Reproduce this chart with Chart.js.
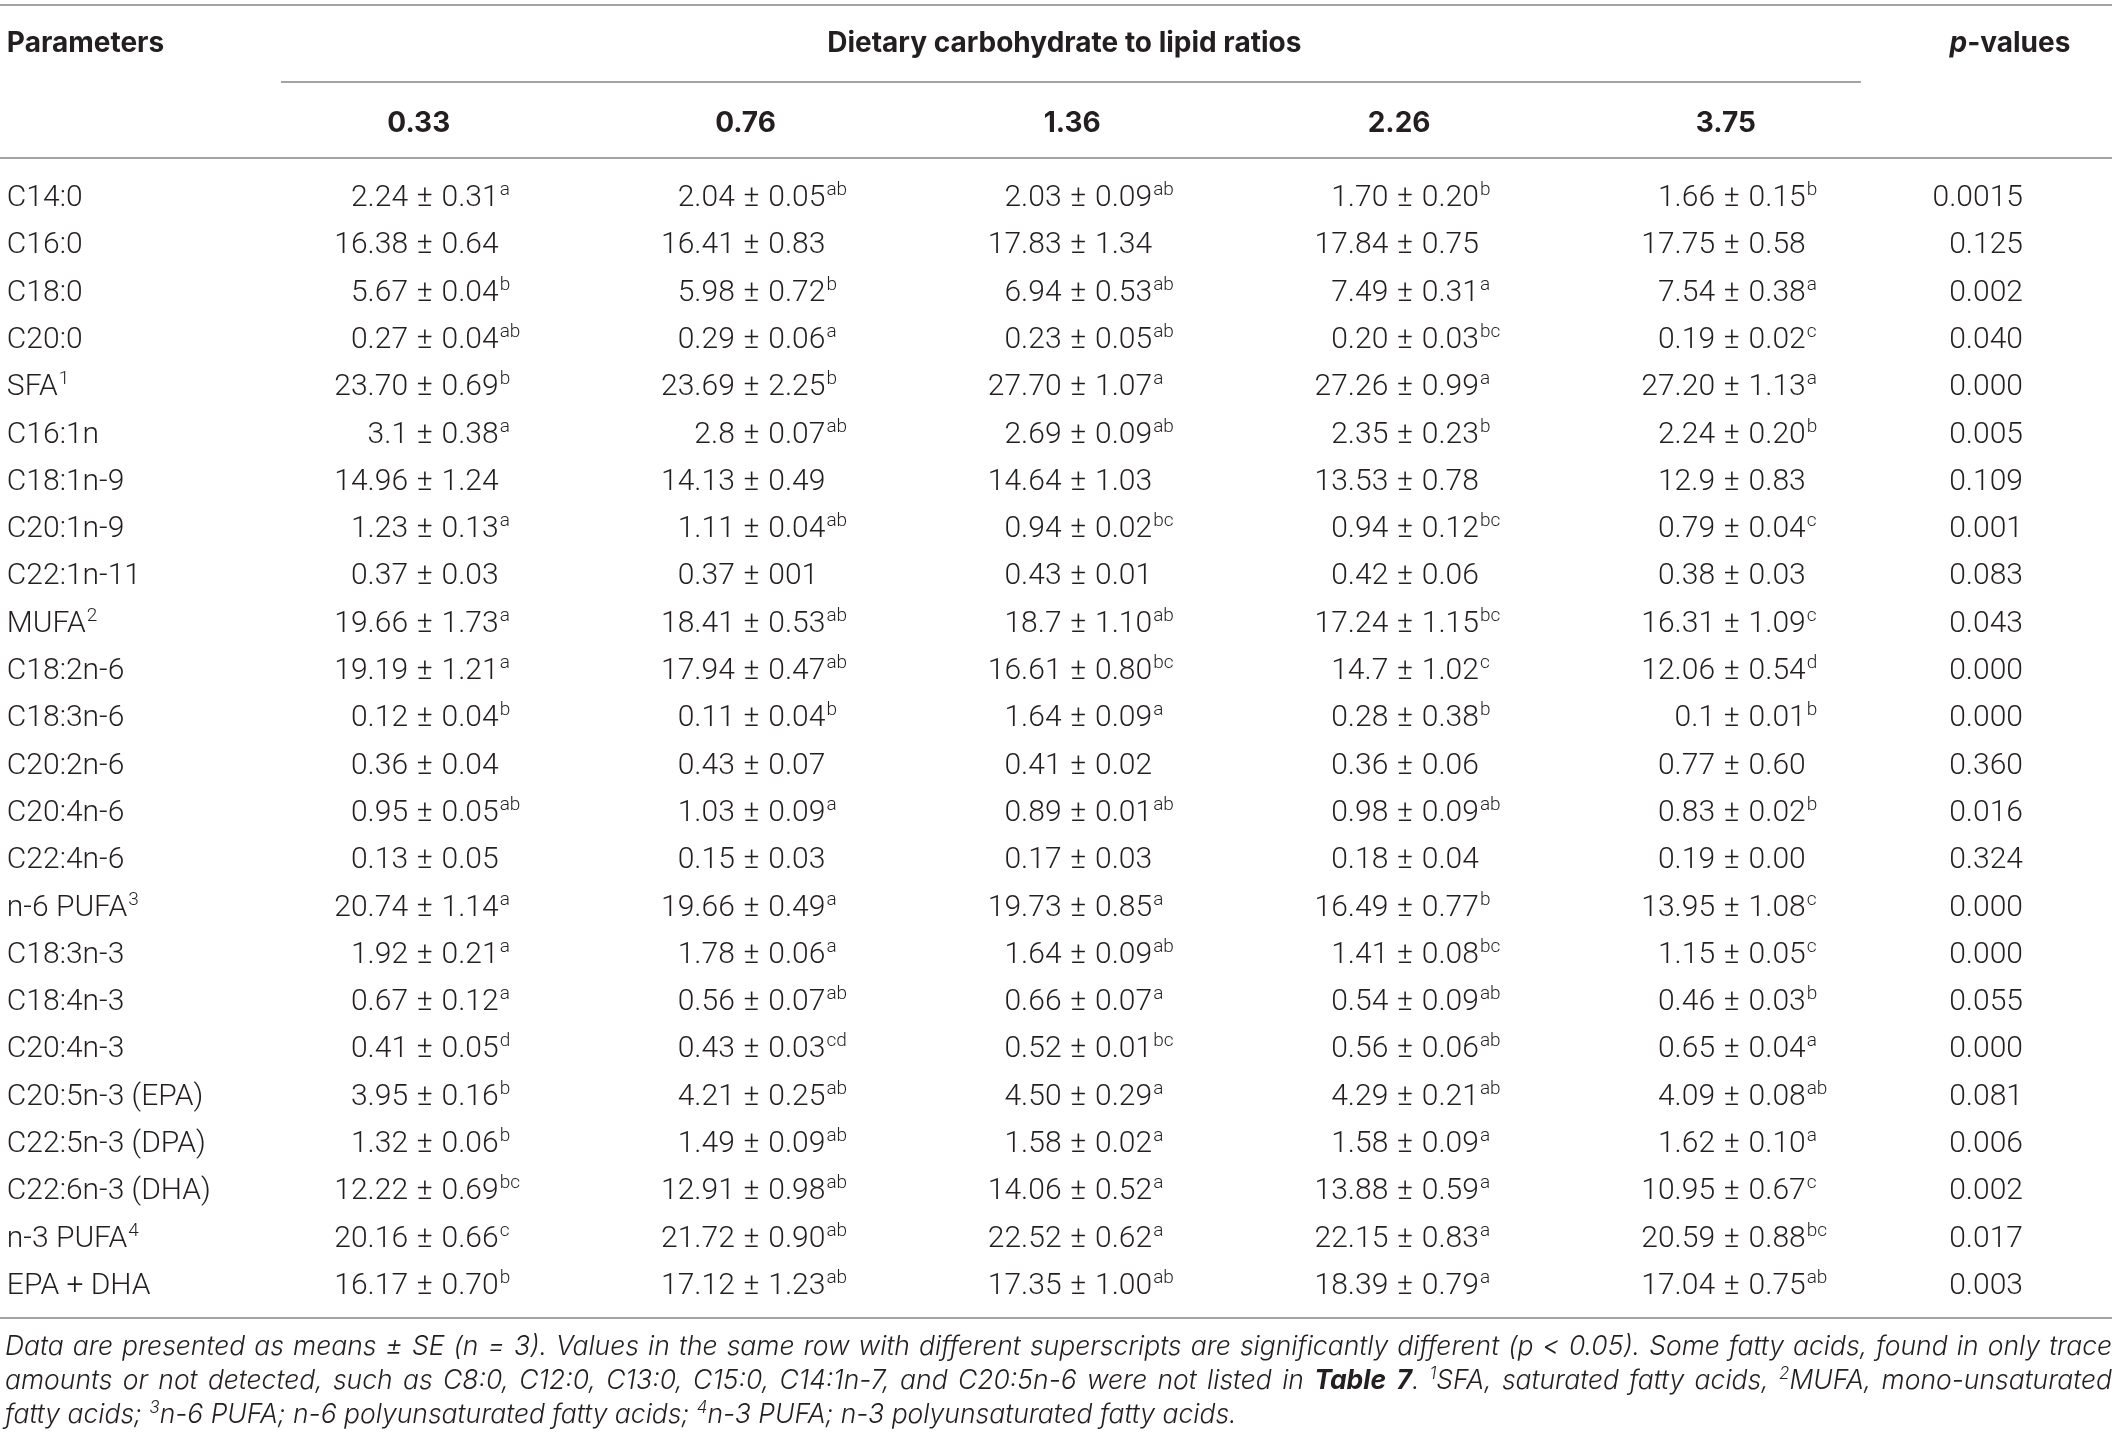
<!DOCTYPE html>
<html>
<head>
<meta charset="utf-8">
<title>Table 7</title>
<script src="https://cdn.jsdelivr.net/npm/chart.js@4.4.1/dist/chart.umd.min.js"></script>
<style>
  html, body { margin: 0; padding: 0; background: #fff; }
  #wrap { width: 2119px; height: 1441px; position: relative; }
</style>
</head>
<body>
<div id="wrap"><canvas id="tbl"></canvas></div>
<script>
// rows
const params = ['C14:0','C16:0','C18:0','C20:0','SFA','C16:1n','C18:1n-9','C20:1n-9','C22:1n-11','MUFA',
  'C18:2n-6','C18:3n-6','C20:2n-6','C20:4n-6','C22:4n-6','n-6 PUFA','C18:3n-3','C18:4n-3','C20:4n-3',
  'C20:5n-3 (EPA)','C22:5n-3 (DPA)','C22:6n-3 (DHA)','n-3 PUFA','EPA + DHA'];
const paramNotes = ['','','','','1','','','','','2','','','','','','3','','','','','','','4',''];

// column heads
const ratios = ['0.33','0.76','1.36','2.26','3.75'];

// 0.33
const means033 = ['2.24','16.38','5.67','0.27','23.70','3.1','14.96','1.23','0.37','19.66','19.19','0.12','0.36','0.95','0.13','20.74','1.92','0.67','0.41','3.95','1.32','12.22','20.16','16.17'];
const se033    = ['0.31','0.64','0.04','0.04','0.69','0.38','1.24','0.13','0.03','1.73','1.21','0.04','0.04','0.05','0.05','1.14','0.21','0.12','0.05','0.16','0.06','0.69','0.66','0.70'];
const sig033   = ['a','','b','ab','b','a','','a','','a','a','b','','ab','','a','a','a','d','b','b','bc','c','b'];
// 0.76
const means076 = ['2.04','16.41','5.98','0.29','23.69','2.8','14.13','1.11','0.37','18.41','17.94','0.11','0.43','1.03','0.15','19.66','1.78','0.56','0.43','4.21','1.49','12.91','21.72','17.12'];
const se076    = ['0.05','0.83','0.72','0.06','2.25','0.07','0.49','0.04','001','0.53','0.47','0.04','0.07','0.09','0.03','0.49','0.06','0.07','0.03','0.25','0.09','0.98','0.90','1.23'];
const sig076   = ['ab','','b','a','b','ab','','ab','','ab','ab','b','','a','','a','a','ab','cd','ab','ab','ab','ab','ab'];
// 1.36
const means136 = ['2.03','17.83','6.94','0.23','27.70','2.69','14.64','0.94','0.43','18.7','16.61','1.64','0.41','0.89','0.17','19.73','1.64','0.66','0.52','4.50','1.58','14.06','22.52','17.35'];
const se136    = ['0.09','1.34','0.53','0.05','1.07','0.09','1.03','0.02','0.01','1.10','0.80','0.09','0.02','0.01','0.03','0.85','0.09','0.07','0.01','0.29','0.02','0.52','0.62','1.00'];
const sig136   = ['ab','','ab','ab','a','ab','','bc','','ab','bc','a','','ab','','a','ab','a','bc','a','a','a','a','ab'];
// 2.26
const means226 = ['1.70','17.84','7.49','0.20','27.26','2.35','13.53','0.94','0.42','17.24','14.7','0.28','0.36','0.98','0.18','16.49','1.41','0.54','0.56','4.29','1.58','13.88','22.15','18.39'];
const se226    = ['0.20','0.75','0.31','0.03','0.99','0.23','0.78','0.12','0.06','1.15','1.02','0.38','0.06','0.09','0.04','0.77','0.08','0.09','0.06','0.21','0.09','0.59','0.83','0.79'];
const sig226   = ['b','','a','bc','a','b','','bc','','bc','c','b','','ab','','b','bc','ab','ab','ab','a','a','a','a'];
// 3.75
const means375 = ['1.66','17.75','7.54','0.19','27.20','2.24','12.9','0.79','0.38','16.31','12.06','0.1','0.77','0.83','0.19','13.95','1.15','0.46','0.65','4.09','1.62','10.95','20.59','17.04'];
const se375    = ['0.15','0.58','0.38','0.02','1.13','0.20','0.83','0.04','0.03','1.09','0.54','0.01','0.60','0.02','0.00','1.08','0.05','0.03','0.04','0.08','0.10','0.67','0.88','0.75'];
const sig375   = ['b','','a','c','a','b','','c','','c','d','b','','b','','c','c','b','a','ab','a','c','bc','ab'];

const pValues = ['0.0015','0.125','0.002','0.040','0.000','0.005','0.109','0.001','0.083','0.043','0.000','0.000','0.360','0.016','0.324','0.000','0.000','0.055','0.000','0.081','0.006','0.002','0.017','0.003'];

const colMeans = [means033, means076, means136, means226, means375];
const colSe = [se033, se076, se136, se226, se375];
const colSig = [sig033, sig076, sig136, sig226, sig375];

// layout / style
const FAM = 'Inter, Roboto, "Liberation Sans", sans-serif';      // heads + footnote
const BODY = 'Roboto, Inter, "Liberation Sans", sans-serif';     // table body
const INK = '#231f20';
const RULE = '#a3a3a3';
const FS = 28, BS = 30, SUP = 19, FOOT = 26.5;
const PM_PAD = 1.5;   // extra room either side of the ± sign
const LABEL_X = -0.279, P_X = 5.891;

const footLines = [
  [{t: 'Data are presented as means ± SE ('}, {t: 'n'}, {t: ' = 3). Values in the same row with different superscripts are significantly different ('}, {t: 'p'}, {t: ' < 0.05). Some fatty acids, found in only trace'}],
  [{t: 'amounts or not detected, such as C8:0, C12:0, C13:0, C15:0, C14:1n-7, and C20:5n-6 were not listed in '}, {t: 'Table 7', b: true}, {t: '. '}, {t: '1', sup: true}, {t: 'SFA, saturated fatty acids, '}, {t: '2', sup: true}, {t: 'MUFA, mono-unsaturated'}],
  [{t: 'fatty acids; '}, {t: '3', sup: true}, {t: 'n-6 PUFA; n-6 polyunsaturated fatty acids; '}, {t: '4', sup: true}, {t: 'n-3 PUFA; n-3 polyunsaturated fatty acids.'}]
];

function font(w, s, it) { return (it ? 'italic ' : '') + w + ' ' + s + 'px ' + FAM; }
function bfont(s) { return '300 ' + s + 'px ' + BODY; }

function hline(ctx, x1, x2, y) {
  ctx.save();
  ctx.strokeStyle = RULE; ctx.lineWidth = 2;
  ctx.beginPath(); ctx.moveTo(x1, y); ctx.lineTo(x2, y); ctx.stroke();
  ctx.restore();
}

function drawCell(ctx, x, base, mean, se, sig) {
  ctx.font = bfont(BS);
  const pm = ctx.measureText('±').width, sp = ctx.measureText(' ').width + PM_PAD;
  ctx.textAlign = 'right'; ctx.fillText(mean, x - pm / 2 - sp, base);
  ctx.textAlign = 'center'; ctx.fillText('±', x, base);
  ctx.textAlign = 'left'; ctx.fillText(se, x + pm / 2 + sp, base);
  if (sig) {
    const w = ctx.measureText(se).width;
    ctx.font = bfont(SUP);
    ctx.fillText(sig, x + pm / 2 + sp + w + 1, base - 11);
  }
}

function drawFootLine(ctx, segs, x0, x1, base, justify) {
  const toks = [];
  segs.forEach(s => {
    s.t.split(/( )/).forEach(p => {
      if (p === '') return;
      toks.push({t: p, sp: p === ' ', b: s.b, sup: s.sup});
    });
  });
  let sum = 0, nsp = 0;
  toks.forEach(k => {
    ctx.font = font(k.b ? 700 : 300, k.sup ? 17 : FOOT, true);
    k.w = ctx.measureText(k.t).width;
    if (k.sp) nsp++; else sum += k.w;
  });
  ctx.font = font(300, FOOT, true);
  const gap = justify ? (x1 - x0 - sum) / nsp : ctx.measureText(' ').width;
  let x = x0;
  ctx.textAlign = 'left';
  toks.forEach(k => {
    if (k.sp) { x += gap; return; }
    ctx.font = font(k.b ? 700 : 300, k.sup ? 17 : FOOT, true);
    ctx.fillText(k.t, x, k.sup ? base - 10 : base);
    x += k.w;
  });
}

const tablePlugin = {
  id: 'tablePlugin',
  afterDatasetsDraw(chart) {
    const ctx = chart.ctx, xs = chart.scales.x, ys = chart.scales.y;
    const W = chart.width;
    const r0 = ys.getPixelForValue(0), rN = ys.getPixelForValue(params.length - 1);
    ctx.save();
    ctx.fillStyle = INK;
    ctx.textBaseline = 'alphabetic';

    // rules
    hline(ctx, 0, W - 7, r0 - 191);
    hline(ctx, xs.getPixelForValue(0.56), xs.getPixelForValue(5.395), r0 - 114);
    hline(ctx, 0, W - 7, r0 - 38);
    hline(ctx, 0, W - 7, rN + 34);

    // header row 1
    ctx.font = font(700, FS);
    ctx.textAlign = 'left';
    ctx.fillText('Parameters', xs.getPixelForValue(LABEL_X), r0 - 144);
    ctx.textAlign = 'center';
    ctx.fillText('Dietary carbohydrate to lipid ratios', xs.getPixelForValue(3) - 14, r0 - 144);
    ctx.font = font(700, FS, true);
    const wp = ctx.measureText('p').width;
    ctx.font = font(700, FS);
    const wv = ctx.measureText('-values').width;
    const pc = xs.getPixelForValue(P_X) - 13 - (wp + wv) / 2;
    ctx.textAlign = 'left';
    ctx.font = font(700, FS, true);
    ctx.fillText('p', pc, r0 - 144);
    ctx.font = font(700, FS);
    ctx.fillText('-values', pc + wp, r0 - 144);

    // header row 2
    ctx.textAlign = 'center';
    ratios.forEach((r, i) => ctx.fillText(r, xs.getPixelForValue(i + 1) - 6, r0 - 64));

    // body cells, placed by the dataset points
    chart.data.datasets.forEach((ds, di) => {
      const meta = chart.getDatasetMeta(di);
      meta.data.forEach((el, ri) => {
        const base = el.y + 10;
        if (ds.kind === 'label') {
          ctx.font = bfont(BS);
          ctx.textAlign = 'left';
          ctx.fillText(params[ri], el.x, base);
          if (paramNotes[ri]) {
            const w = ctx.measureText(params[ri]).width;
            ctx.font = bfont(SUP);
            ctx.fillText(paramNotes[ri], el.x + w + 1, base - 11);
          }
        } else if (ds.kind === 'p') {
          ctx.font = bfont(BS);
          ctx.textAlign = 'right';
          ctx.fillText(pValues[ri], el.x, base);
        } else {
          drawCell(ctx, el.x, base, colMeans[ds.col][ri], colSe[ds.col][ri], colSig[ds.col][ri]);
        }
      });
    });

    // footnote
    footLines.forEach((ln, i) => drawFootLine(ctx, ln, 5, W - 7, rN + 71 + i * 34, i < 2));
    ctx.restore();
  }
};

const datasets = [];
datasets.push({kind: 'label', data: params.map((p, i) => ({x: LABEL_X, y: i}))});
ratios.forEach((r, c) => datasets.push({kind: 'cell', col: c, label: r, data: params.map((p, i) => ({x: c + 1, y: i}))}));
datasets.push({kind: 'p', data: params.map((p, i) => ({x: P_X, y: i}))});
datasets.forEach(d => { d.pointRadius = 0; d.pointHoverRadius = 0; d.showLine = false; });

new Chart(document.getElementById('tbl'), {
  type: 'scatter',
  data: {datasets: datasets},
  options: {
    responsive: true,
    maintainAspectRatio: false,
    animation: false,
    events: [],
    layout: {padding: {left: 0, right: 0, top: 196, bottom: 157}},
    plugins: {legend: {display: false}, tooltip: {enabled: false}},
    scales: {
      x: {type: 'linear', min: -0.3, max: 6.185, display: false},
      y: {type: 'linear', min: 0, max: 23, reverse: true, display: false}
    }
  },
  plugins: [tablePlugin]
});
</script>
</body>
</html>
